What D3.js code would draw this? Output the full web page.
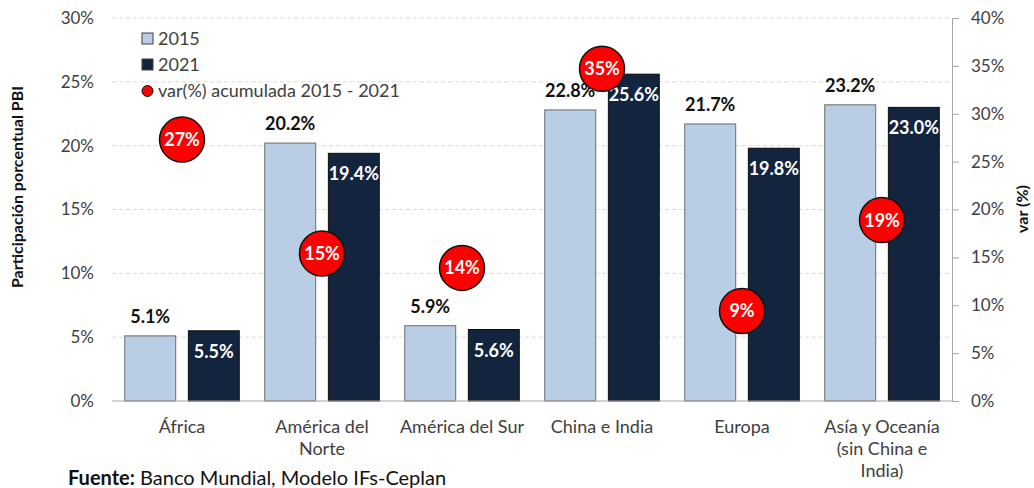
<!DOCTYPE html>
<html>
<head>
<meta charset="utf-8">
<script src="https://cdn.jsdelivr.net/npm/d3@7"></script>
<style>
  body { margin: 0; background: #fff; }
  svg text { font-family: Lato, "Open Sans", sans-serif; }
</style>
</head>
<body>
<div id="chart"></div>
<script>
// ── DATA ──────────────────────────────────────────────
const regions = [
  ["África"],
  ["América del", "Norte"],
  ["América del Sur"],
  ["China e India"],
  ["Europa"],
  ["Asía y Oceanía", "(sin China e", "India)"]
];
const share2015 = [5.1, 20.2, 5.9, 22.8, 21.7, 23.2];
const share2021 = [5.5, 19.4, 5.6, 25.6, 19.8, 23.0];
const varAcum   = [27.3, 15.4, 13.9, 34.7, 9.4, 18.9];
const leftTicks  = [0, 5, 10, 15, 20, 25, 30];
const rightTicks = [0, 5, 10, 15, 20, 25, 30, 35, 40];

// ── DIMENSIONS ────────────────────────────────────────
const W = 1034, H = 488;
const plot = { left: 112, right: 952, top: 18, bottom: 401 };

const svg = d3.select("#chart").append("svg")
  .attr("width", W).attr("height", H);

// ── SCALES ────────────────────────────────────────────
const x = d3.scaleBand()
  .domain(d3.range(regions.length))
  .range([plot.left, plot.right]);
const xInner = d3.scaleBand()
  .domain(["2015", "2021"])
  .range([0, x.bandwidth()])
  .paddingInner(0.2)
  .paddingOuter(0.2);
const yLeft = d3.scaleLinear().domain([0, 30]).range([plot.bottom, plot.top]);
const yRight = d3.scaleLinear().domain([0, 40]).range([plot.bottom, plot.top]);

const c2015 = "#b9cde4", c2021 = "#12243e";
const tickColor = "#404040";

// ── GRIDLINES ─────────────────────────────────────────
svg.append("g").selectAll("line")
  .data(leftTicks.filter(d => d > 0))
  .join("line")
    .attr("x1", plot.left).attr("x2", plot.right)
    .attr("y1", d => yLeft(d)).attr("y2", d => yLeft(d))
    .attr("stroke", "#d9d9d9")
    .attr("stroke-dasharray", "4,3");

// left axis (labels only)
const leftAxis = svg.append("g")
  .attr("transform", `translate(${plot.left},0)`)
  .call(d3.axisLeft(yLeft).tickValues(leftTicks).tickSize(0).tickPadding(18)
    .tickFormat(d => d + "%"));
leftAxis.select(".domain").remove();
leftAxis.selectAll("text").attr("font-size", 17).attr("fill", tickColor)
  .attr("font-family", "Lato, sans-serif");

// right axis
const rightAxis = svg.append("g")
  .attr("transform", `translate(${plot.right},0)`)
  .call(d3.axisRight(yRight).tickValues(rightTicks).tickSize(7).tickPadding(12)
    .tickFormat(d => d + "%"));
rightAxis.select(".domain").attr("stroke", "#a6a6a6");
rightAxis.selectAll("line").attr("stroke", "#a6a6a6");
rightAxis.selectAll("text").attr("font-size", 17).attr("fill", tickColor)
  .attr("font-family", "Lato, sans-serif");

// ── BARS ──────────────────────────────────────────────
const groups = svg.append("g").selectAll("g")
  .data(regions.map((r, i) => ({ i, v15: share2015[i], v21: share2021[i] })))
  .join("g")
    .attr("transform", d => `translate(${x(d.i)},0)`);

groups.append("rect")
  .attr("x", xInner("2015")).attr("width", xInner.bandwidth())
  .attr("y", d => yLeft(d.v15)).attr("height", d => plot.bottom - yLeft(d.v15))
  .attr("fill", c2015).attr("stroke", "#7f7f7f").attr("stroke-width", 1.2);

groups.append("rect")
  .attr("x", xInner("2021")).attr("width", xInner.bandwidth())
  .attr("y", d => yLeft(d.v21)).attr("height", d => plot.bottom - yLeft(d.v21))
  .attr("fill", c2021).attr("stroke", "#0d0d0d").attr("stroke-width", 1);

groups.append("text")
  .attr("x", xInner("2015") + xInner.bandwidth() / 2)
  .attr("y", d => yLeft(d.v15) - 13)
  .attr("text-anchor", "middle")
  .attr("font-size", 18).attr("font-weight", "bold").attr("fill", "#111")
  .text(d => d.v15.toFixed(1) + "%");

groups.append("text")
  .attr("x", xInner("2021") + xInner.bandwidth() / 2)
  .attr("y", d => yLeft(d.v21) + 27)
  .attr("text-anchor", "middle")
  .attr("font-size", 18).attr("font-weight", "bold").attr("fill", "#fff")
  .text(d => d.v21.toFixed(1) + "%");

// x axis line
svg.append("line")
  .attr("x1", plot.left).attr("x2", plot.right)
  .attr("y1", plot.bottom).attr("y2", plot.bottom)
  .attr("stroke", "#a6a6a6");

// category labels
svg.append("g").selectAll("text")
  .data(regions)
  .join("text")
    .attr("x", (d, i) => x(i) + x.bandwidth() / 2)
    .attr("y", 433)
    .attr("text-anchor", "middle")
    .attr("font-size", 18).attr("fill", tickColor)
    .each(function(lines) {
      d3.select(this).selectAll("tspan")
        .data(lines).join("tspan")
          .attr("x", d3.select(this).attr("x"))
          .attr("dy", (d, k) => k === 0 ? 0 : 22)
          .text(d => d);
    });

// ── VAR CIRCLES ───────────────────────────────────────
const bubbles = svg.append("g").selectAll("g")
  .data(varAcum)
  .join("g")
    .attr("transform", (d, i) => `translate(${x(i) + x.bandwidth() / 2},${yRight(d)})`);
bubbles.append("circle")
  .attr("r", 22.5).attr("fill", "#ff0000")
  .attr("stroke", "#111").attr("stroke-width", 1.5);
bubbles.append("text")
  .attr("y", 6.5).attr("text-anchor", "middle")
  .attr("font-size", 18).attr("font-weight", "bold").attr("fill", "#fff")
  .text(d => Math.round(d) + "%");

// ── LEGEND ────────────────────────────────────────────
const legend = svg.append("g").attr("transform", "translate(142,0)");
legend.append("rect").attr("x", 0).attr("y", 33).attr("width", 11).attr("height", 11)
  .attr("fill", c2015).attr("stroke", "#404040");
legend.append("rect").attr("x", 0).attr("y", 59).attr("width", 11).attr("height", 11)
  .attr("fill", c2021).attr("stroke", "#404040");
legend.append("circle").attr("cx", 5.5).attr("cy", 91).attr("r", 5.5)
  .attr("fill", "#ff0000").attr("stroke", "#111");
legend.selectAll("text.lg")
  .data(["2015", "2021", "var(%) acumulada 2015 - 2021"])
  .join("text")
    .attr("class", "lg")
    .attr("x", 16).attr("y", (d, i) => 45 + i * 26)
    .attr("font-size", 18).attr("fill", tickColor)
    .text(d => d);

// ── AXIS TITLES ───────────────────────────────────────
svg.append("text")
  .attr("transform", "translate(23,187) rotate(-90)")
  .attr("text-anchor", "middle")
  .attr("font-size", 16).attr("font-weight", "bold").attr("fill", "#111")
  .text("Participación porcentual PBI");

svg.append("text")
  .attr("transform", "translate(1028,209) rotate(-90)")
  .attr("text-anchor", "middle")
  .attr("font-size", 16).attr("font-weight", "bold").attr("fill", "#111")
  .text("var (%)");

// ── SOURCE ────────────────────────────────────────────
const src = svg.append("text")
  .attr("x", 68).attr("y", 485)
  .attr("font-size", 20).attr("fill", "#111");
src.append("tspan").attr("font-weight", "bold").text("Fuente:");
src.append("tspan").text(" Banco Mundial, Modelo IFs-Ceplan");
</script>
</body>
</html>
